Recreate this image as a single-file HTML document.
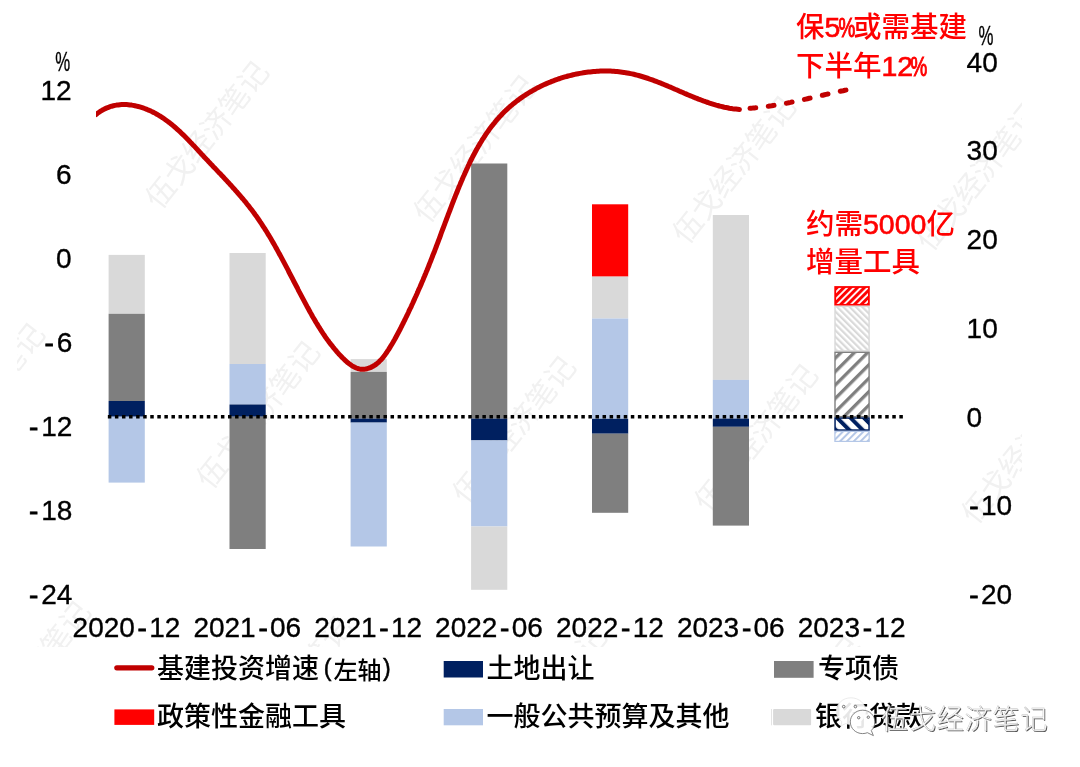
<!DOCTYPE html><html><head><meta charset="utf-8"><title>基建资金来源</title><style>html,body{margin:0;padding:0;background:#fff;overflow:hidden;}svg{display:block;}.n{font-family:"Liberation Sans",Arial,sans-serif;font-size:28px;fill:#000;stroke:#000;stroke-width:0.35px;}.h{stroke-width:0.8px;}.c{font-family:"Liberation Sans","Noto Sans CJK SC",sans-serif;}</style></head><body><svg width="1080" height="767" viewBox="0 0 1080 767"><defs><pattern id="pr" width="4.84" height="4.84" patternUnits="userSpaceOnUse" patternTransform="translate(0,0) rotate(45)"><rect width="4.84" height="4.84" fill="#fff"/><rect width="3.0" height="4.84" fill="#FF0000"/></pattern><pattern id="pl" width="4.45" height="4.45" patternUnits="userSpaceOnUse" patternTransform="translate(0,0) rotate(-45)"><rect width="4.45" height="4.45" fill="#fff"/><rect width="2.2" height="4.45" fill="#D9D9D9"/></pattern><pattern id="pd" width="9.5" height="9.5" patternUnits="userSpaceOnUse" patternTransform="translate(-4.6,0) rotate(45)"><rect width="9.5" height="9.5" fill="#fff"/><rect width="3.3" height="9.5" fill="#7F7F7F"/></pattern><pattern id="pn" width="9.5" height="9.5" patternUnits="userSpaceOnUse" patternTransform="translate(0,0) rotate(-45)"><rect width="9.5" height="9.5" fill="#fff"/><rect width="4.0" height="9.5" fill="#002060"/></pattern><pattern id="pb" width="4.84" height="4.84" patternUnits="userSpaceOnUse" patternTransform="translate(0,0) rotate(45)"><rect width="4.84" height="4.84" fill="#fff"/><rect width="2.0" height="4.84" fill="#B4C7E7"/></pattern><clipPath id="wc"><rect x="17" y="0" width="1005" height="647"/></clipPath><clipPath id="lc"><rect x="95.9" y="0" width="900" height="700"/></clipPath></defs><g clip-path="url(#wc)" fill="#f1f1f1" font-family="Noto Sans CJK SC,sans-serif" font-size="29.5" font-weight="400" text-anchor="middle"><text x="0" y="10.5" transform="translate(207,135) rotate(-51.5)">伍戈经济笔记</text><text x="0" y="10.5" transform="translate(475,149) rotate(-51.5)">伍戈经济笔记</text><text x="0" y="10.5" transform="translate(734,170) rotate(-51.5)">伍戈经济笔记</text><text x="0" y="10.5" transform="translate(978,177) rotate(-51.5)">伍戈经济笔记</text><text x="0" y="10.5" transform="translate(-17,397) rotate(-51.5)">伍戈经济笔记</text><text x="0" y="10.5" transform="translate(258,415) rotate(-51.5)">伍戈经济笔记</text><text x="0" y="10.5" transform="translate(514,430) rotate(-51.5)">伍戈经济笔记</text><text x="0" y="10.5" transform="translate(756,438) rotate(-51.5)">伍戈经济笔记</text><text x="0" y="10.5" transform="translate(1023,450) rotate(-51.5)">伍戈经济笔记</text><text x="0" y="10.5" transform="translate(29,675) rotate(-51.5)">伍戈经济笔记</text><text x="0" y="10.5" transform="translate(290,690) rotate(-51.5)">伍戈经济笔记</text><text x="0" y="10.5" transform="translate(545,700) rotate(-51.5)">伍戈经济笔记</text><text x="0" y="10.5" transform="translate(800,710) rotate(-51.5)">伍戈经济笔记</text></g><rect x="108.60" y="254.90" width="36.20" height="58.90" fill="#D9D9D9"/><rect x="108.60" y="313.80" width="36.20" height="87.20" fill="#7F7F7F"/><rect x="108.60" y="401.00" width="36.20" height="15.70" fill="#002060"/><rect x="108.60" y="416.70" width="36.20" height="65.90" fill="#B4C7E7"/><rect x="229.50" y="253.00" width="36.20" height="111.00" fill="#D9D9D9"/><rect x="229.50" y="364.00" width="36.20" height="40.50" fill="#B4C7E7"/><rect x="229.50" y="404.50" width="36.20" height="12.20" fill="#002060"/><rect x="229.50" y="416.70" width="36.20" height="132.30" fill="#7F7F7F"/><rect x="350.60" y="359.10" width="36.20" height="12.80" fill="#D9D9D9"/><rect x="350.60" y="371.90" width="36.20" height="46.70" fill="#7F7F7F"/><rect x="350.60" y="418.60" width="36.20" height="4.00" fill="#002060"/><rect x="350.60" y="422.60" width="36.20" height="123.90" fill="#B4C7E7"/><rect x="471.10" y="163.50" width="36.20" height="255.10" fill="#7F7F7F"/><rect x="471.10" y="418.60" width="36.20" height="21.80" fill="#002060"/><rect x="471.10" y="440.40" width="36.20" height="86.10" fill="#B4C7E7"/><rect x="471.10" y="526.50" width="36.20" height="63.30" fill="#D9D9D9"/><rect x="592.00" y="204.30" width="36.20" height="72.30" fill="#FF0000"/><rect x="592.00" y="276.60" width="36.20" height="41.90" fill="#D9D9D9"/><rect x="592.00" y="318.50" width="36.20" height="100.30" fill="#B4C7E7"/><rect x="592.00" y="418.80" width="36.20" height="14.90" fill="#002060"/><rect x="592.00" y="433.70" width="36.20" height="79.10" fill="#7F7F7F"/><rect x="712.80" y="215.00" width="36.20" height="164.90" fill="#D9D9D9"/><rect x="712.80" y="379.90" width="36.20" height="38.70" fill="#B4C7E7"/><rect x="712.80" y="418.60" width="36.20" height="8.20" fill="#002060"/><rect x="712.80" y="426.80" width="36.20" height="98.80" fill="#7F7F7F"/><rect x="835.20" y="287.00" width="33.70" height="17.80" fill="url(#pr)" stroke="#FF0000" stroke-width="1.80"/><rect x="835.00" y="306.40" width="34.10" height="44.50" fill="url(#pl)" stroke="#D9D9D9" stroke-width="1.40"/><rect x="835.00" y="352.30" width="34.10" height="64.30" fill="url(#pd)" stroke="#7F7F7F" stroke-width="1.40"/><rect x="835.05" y="418.05" width="34.00" height="12.00" fill="url(#pn)" stroke="#002060" stroke-width="1.50"/><rect x="834.90" y="431.40" width="34.30" height="10.00" fill="url(#pb)" stroke="#B4C7E7" stroke-width="1.20"/><line x1="107.85" y1="416.8" x2="903.4" y2="416.8" stroke="#000" stroke-width="3.4" stroke-dasharray="3.5 3.567"/><path d="M96.0,114.5 L97.5,113.3 L99.1,112.2 L100.6,111.2 L102.1,110.3 L103.7,109.4 L105.3,108.6 L106.9,107.9 L108.5,107.3 L110.1,106.7 L111.7,106.2 L113.4,105.8 L115.0,105.4 L116.6,105.1 L118.3,104.9 L119.9,104.7 L121.6,104.6 L123.3,104.6 L124.9,104.6 L126.6,104.6 L128.3,104.7 L129.9,104.9 L131.6,105.1 L133.2,105.4 L134.9,105.7 L136.5,106.1 L138.2,106.5 L139.8,106.9 L141.4,107.4 L143.0,107.9 L144.6,108.5 L146.2,109.1 L147.8,109.8 L149.4,110.4 L150.9,111.1 L152.4,111.9 L154.0,112.6 L155.5,113.4 L156.9,114.3 L158.4,115.1 L159.8,116.0 L161.3,116.9 L162.7,117.8 L164.1,118.8 L165.4,119.7 L166.8,120.7 L168.2,121.7 L169.5,122.7 L170.8,123.8 L172.1,124.8 L173.4,125.9 L174.7,127.0 L176.0,128.1 L177.3,129.3 L178.5,130.4 L179.8,131.5 L181.0,132.7 L182.2,133.9 L183.5,135.1 L184.7,136.3 L185.9,137.5 L187.1,138.7 L188.3,139.9 L189.5,141.2 L190.6,142.4 L191.8,143.6 L193.0,144.9 L194.2,146.1 L195.4,147.4 L196.5,148.6 L197.7,149.9 L198.9,151.2 L200.0,152.4 L201.2,153.7 L202.4,154.9 L203.5,156.2 L204.7,157.5 L205.9,158.7 L207.1,159.9 L208.2,161.2 L209.4,162.4 L210.6,163.7 L211.8,164.9 L212.9,166.2 L214.1,167.4 L215.3,168.6 L216.5,169.9 L217.6,171.1 L218.8,172.4 L220.0,173.6 L221.2,174.8 L222.3,176.1 L223.5,177.3 L224.7,178.6 L225.8,179.8 L227.0,181.0 L228.1,182.3 L229.3,183.5 L230.4,184.8 L231.6,186.0 L232.7,187.3 L233.8,188.6 L235.0,189.8 L236.1,191.1 L237.2,192.3 L238.3,193.6 L239.4,194.9 L240.5,196.2 L241.6,197.5 L242.7,198.7 L243.8,200.0 L244.9,201.3 L245.9,202.6 L247.0,204.0 L248.1,205.3 L249.1,206.6 L250.1,207.9 L251.2,209.3 L252.2,210.6 L253.2,211.9 L254.2,213.3 L255.2,214.7 L256.2,216.0 L257.2,217.4 L258.1,218.8 L259.1,220.2 L260.0,221.6 L261.0,223.0 L261.9,224.4 L262.8,225.8 L263.7,227.2 L264.7,228.6 L265.6,230.1 L266.5,231.5 L267.4,233.0 L268.2,234.4 L269.1,235.8 L270.0,237.3 L270.9,238.8 L271.7,240.2 L272.6,241.7 L273.4,243.2 L274.3,244.6 L275.1,246.1 L275.9,247.6 L276.8,249.1 L277.6,250.6 L278.4,252.1 L279.2,253.6 L280.1,255.1 L280.9,256.6 L281.7,258.1 L282.5,259.6 L283.3,261.1 L284.1,262.6 L284.9,264.1 L285.7,265.6 L286.5,267.1 L287.3,268.6 L288.1,270.1 L288.8,271.7 L289.6,273.2 L290.4,274.7 L291.2,276.2 L292.0,277.7 L292.8,279.2 L293.5,280.8 L294.3,282.3 L295.1,283.8 L295.9,285.3 L296.7,286.8 L297.5,288.3 L298.2,289.8 L299.0,291.4 L299.8,292.9 L300.6,294.4 L301.4,295.9 L302.2,297.4 L303.0,298.9 L303.8,300.4 L304.6,301.9 L305.4,303.4 L306.2,304.9 L307.0,306.4 L307.8,307.8 L308.6,309.3 L309.4,310.8 L310.2,312.3 L311.1,313.8 L311.9,315.2 L312.7,316.7 L313.6,318.2 L314.4,319.6 L315.3,321.1 L316.1,322.5 L317.0,323.9 L317.9,325.4 L318.8,326.8 L319.7,328.2 L320.6,329.7 L321.5,331.1 L322.4,332.5 L323.3,333.9 L324.3,335.3 L325.2,336.7 L326.2,338.1 L327.2,339.5 L328.2,340.8 L329.2,342.2 L330.3,343.6 L331.3,344.9 L332.4,346.2 L333.4,347.6 L334.5,348.9 L335.7,350.2 L336.8,351.6 L337.9,352.9 L339.1,354.2 L340.3,355.4 L341.5,356.7 L342.7,358.0 L344.0,359.2 L345.3,360.5 L346.6,361.6 L347.9,362.8 L349.2,363.8 L350.6,364.8 L352.0,365.8 L353.4,366.6 L354.8,367.3 L356.3,368.0 L357.7,368.5 L359.2,368.9 L360.8,369.2 L362.3,369.3 L363.9,369.2 L365.5,369.0 L367.1,368.7 L368.7,368.2 L370.3,367.6 L371.9,366.9 L373.4,366.0 L374.9,365.1 L376.3,364.1 L377.7,363.0 L379.0,361.8 L380.2,360.6 L381.4,359.4 L382.5,358.1 L383.6,356.7 L384.7,355.3 L385.7,353.9 L386.7,352.5 L387.6,351.0 L388.6,349.6 L389.5,348.1 L390.4,346.6 L391.3,345.2 L392.2,343.7 L393.1,342.2 L393.9,340.8 L394.8,339.3 L395.6,337.8 L396.4,336.3 L397.2,334.8 L398.0,333.3 L398.8,331.8 L399.6,330.3 L400.4,328.8 L401.1,327.3 L401.9,325.8 L402.6,324.3 L403.4,322.8 L404.1,321.3 L404.9,319.8 L405.6,318.3 L406.3,316.8 L407.1,315.2 L407.8,313.7 L408.5,312.2 L409.2,310.6 L409.9,309.1 L410.7,307.6 L411.4,306.1 L412.1,304.5 L412.8,303.0 L413.5,301.4 L414.2,299.9 L414.9,298.3 L415.6,296.8 L416.3,295.2 L417.0,293.7 L417.7,292.1 L418.3,290.6 L419.0,289.0 L419.7,287.5 L420.4,285.9 L421.1,284.4 L421.7,282.8 L422.4,281.2 L423.1,279.7 L423.7,278.1 L424.4,276.5 L425.0,275.0 L425.7,273.4 L426.3,271.8 L427.0,270.2 L427.6,268.7 L428.3,267.1 L428.9,265.5 L429.5,263.9 L430.1,262.4 L430.8,260.8 L431.4,259.2 L432.0,257.6 L432.6,256.0 L433.2,254.4 L433.9,252.9 L434.5,251.3 L435.1,249.7 L435.7,248.1 L436.3,246.5 L436.9,244.9 L437.5,243.3 L438.1,241.8 L438.7,240.2 L439.3,238.6 L439.9,237.0 L440.5,235.4 L441.0,233.8 L441.6,232.2 L442.2,230.6 L442.8,229.0 L443.4,227.5 L444.0,225.9 L444.6,224.3 L445.2,222.7 L445.8,221.1 L446.4,219.5 L447.0,217.9 L447.6,216.3 L448.2,214.7 L448.8,213.1 L449.4,211.6 L450.0,210.0 L450.6,208.4 L451.2,206.8 L451.8,205.2 L452.4,203.6 L453.0,202.0 L453.6,200.5 L454.2,198.9 L454.9,197.3 L455.5,195.7 L456.1,194.1 L456.8,192.6 L457.4,191.0 L458.0,189.4 L458.7,187.8 L459.3,186.2 L460.0,184.7 L460.6,183.1 L461.3,181.5 L462.0,180.0 L462.6,178.4 L463.3,176.8 L464.0,175.3 L464.7,173.7 L465.4,172.1 L466.1,170.6 L466.8,169.0 L467.5,167.5 L468.2,165.9 L469.0,164.4 L469.7,162.9 L470.4,161.3 L471.2,159.8 L472.0,158.3 L472.7,156.8 L473.5,155.3 L474.3,153.8 L475.1,152.3 L475.9,150.8 L476.7,149.3 L477.6,147.8 L478.4,146.3 L479.2,144.9 L480.1,143.4 L481.0,142.0 L481.9,140.5 L482.7,139.1 L483.7,137.7 L484.6,136.3 L485.5,134.9 L486.4,133.5 L487.4,132.1 L488.4,130.7 L489.3,129.4 L490.3,128.0 L491.3,126.7 L492.4,125.4 L493.4,124.1 L494.5,122.8 L495.5,121.5 L496.6,120.2 L497.7,118.9 L498.8,117.7 L499.9,116.4 L501.1,115.2 L502.2,114.0 L503.4,112.8 L504.6,111.6 L505.8,110.4 L507.0,109.3 L508.3,108.1 L509.5,107.0 L510.8,105.9 L512.1,104.8 L513.4,103.7 L514.7,102.7 L516.1,101.6 L517.4,100.6 L518.8,99.6 L520.1,98.6 L521.5,97.6 L522.9,96.6 L524.4,95.7 L525.8,94.7 L527.2,93.8 L528.7,92.9 L530.1,92.0 L531.6,91.2 L533.1,90.3 L534.6,89.5 L536.1,88.6 L537.6,87.8 L539.2,87.1 L540.7,86.3 L542.3,85.5 L543.8,84.8 L545.4,84.1 L547.0,83.4 L548.6,82.7 L550.2,82.1 L551.8,81.4 L553.4,80.8 L555.0,80.2 L556.6,79.6 L558.2,79.0 L559.9,78.5 L561.5,77.9 L563.2,77.4 L564.8,76.9 L566.5,76.5 L568.1,76.0 L569.8,75.6 L571.5,75.2 L573.1,74.8 L574.8,74.4 L576.5,74.0 L578.2,73.7 L579.9,73.4 L581.6,73.1 L583.3,72.8 L585.0,72.5 L586.7,72.3 L588.4,72.1 L590.1,71.9 L591.8,71.7 L593.5,71.5 L595.2,71.4 L596.9,71.3 L598.6,71.2 L600.3,71.1 L602.0,71.1 L603.7,71.0 L605.4,71.0 L607.1,71.1 L608.8,71.1 L610.5,71.1 L612.2,71.2 L613.9,71.3 L615.5,71.5 L617.2,71.6 L618.9,71.8 L620.6,72.0 L622.2,72.2 L623.9,72.4 L625.6,72.7 L627.2,73.0 L628.9,73.3 L630.5,73.6 L632.1,73.9 L633.8,74.3 L635.4,74.7 L637.0,75.1 L638.6,75.5 L640.3,76.0 L641.9,76.5 L643.5,77.0 L645.1,77.5 L646.7,78.0 L648.3,78.5 L649.8,79.1 L651.4,79.6 L653.0,80.2 L654.6,80.8 L656.2,81.4 L657.7,82.0 L659.3,82.6 L660.9,83.2 L662.5,83.9 L664.0,84.5 L665.6,85.2 L667.2,85.8 L668.7,86.5 L670.3,87.1 L671.8,87.8 L673.4,88.5 L675.0,89.2 L676.5,89.8 L678.1,90.5 L679.6,91.2 L681.2,91.9 L682.8,92.5 L684.3,93.2 L685.9,93.9 L687.5,94.6 L689.0,95.2 L690.6,95.9 L692.2,96.5 L693.7,97.2 L695.3,97.8 L696.9,98.4 L698.5,99.1 L700.1,99.7 L701.6,100.3 L703.2,100.9 L704.8,101.4 L706.4,102.0 L708.0,102.5 L709.6,103.1 L711.2,103.6 L712.8,104.1 L714.5,104.6 L716.1,105.1 L717.7,105.5 L719.3,106.0 L721.0,106.4 L722.6,106.8 L724.3,107.2 L725.9,107.5 L727.6,107.8 L729.2,108.2 L730.9,108.4 L732.6,108.7 L734.3,108.9 L736.0,109.1 L737.7,109.3 L739.4,109.5" clip-path="url(#lc)" fill="none" stroke="#C00000" stroke-width="5" stroke-linecap="round" stroke-linejoin="round"/><path d="M747.5,108.4 L749.2,108.3 L751.0,108.2 L752.7,108.1 L754.5,107.9 L756.2,107.8 L757.9,107.6 L759.7,107.4 L761.4,107.2 L763.1,107.0 L764.8,106.8 L766.6,106.5 L768.3,106.3 L770.0,106.0 L771.7,105.8 L773.4,105.5 L775.1,105.2 L776.9,104.9 L778.6,104.7 L780.3,104.3 L782.0,104.0 L783.7,103.7 L785.4,103.4 L787.1,103.1 L788.8,102.7 L790.5,102.4 L792.2,102.0 L793.9,101.7 L795.6,101.3 L797.3,101.0 L799.0,100.6 L800.7,100.2 L802.4,99.8 L804.1,99.5 L805.8,99.1 L807.5,98.7 L809.2,98.3 L810.9,97.9 L812.6,97.5 L814.3,97.2 L816.0,96.8 L817.7,96.4 L819.4,96.0 L821.1,95.6 L822.8,95.2 L824.5,94.8 L826.2,94.4 L827.9,94.0 L829.6,93.7 L831.3,93.3 L833.0,92.9 L834.7,92.5 L836.4,92.1 L838.1,91.8 L839.8,91.4 L841.5,91.0 L843.2,90.7 L844.9,90.3 L846.6,90.0 L848.3,89.6" fill="none" stroke="#C00000" stroke-width="5" stroke-linecap="round" stroke-dasharray="5.8 12.6" stroke-dashoffset="-2.5"/><text class="n" x="71.7" y="99.5" text-anchor="end">12</text><text class="n" x="71.7" y="183.5" text-anchor="end">6</text><text class="n" x="71.7" y="267.5" text-anchor="end">0</text><text class="n" x="73.3" y="351.5" text-anchor="end"><tspan class="h" dx="-1">-</tspan><tspan dx="2.8">6</tspan></text><text class="n" x="73.3" y="435.5" text-anchor="end"><tspan class="h" dx="-1">-</tspan><tspan dx="2.8">12</tspan></text><text class="n" x="73.3" y="519.5" text-anchor="end"><tspan class="h" dx="-1">-</tspan><tspan dx="2.8">18</tspan></text><text class="n" x="73.3" y="603.5" text-anchor="end"><tspan class="h" dx="-1">-</tspan><tspan dx="2.8">24</tspan></text><text class="n" x="966.6" y="71.5" text-anchor="start">40</text><text class="n" x="966.6" y="160.2" text-anchor="start">30</text><text class="n" x="966.6" y="249.0" text-anchor="start">20</text><text class="n" x="966.6" y="337.8" text-anchor="start">10</text><text class="n" x="966.6" y="426.5" text-anchor="start">0</text><text class="n" x="970.3" y="515.2" text-anchor="start"><tspan class="h" dx="-1">-</tspan><tspan dx="2.3">10</tspan></text><text class="n" x="970.3" y="604.0" text-anchor="start"><tspan class="h" dx="-1">-</tspan><tspan dx="2.3">20</tspan></text><text class="n" font-size="25" transform="translate(55.2,71) scale(0.6,1)">%</text><text class="n" font-size="25" transform="translate(978.6,45) scale(0.6,1)">%</text><text class="n" x="126.5" y="637.2" text-anchor="middle">2020<tspan class="h" dx="2.7">-</tspan><tspan dx="2.3">12</tspan></text><text class="n" x="247.3" y="637.2" text-anchor="middle">2021<tspan class="h" dx="2.7">-</tspan><tspan dx="2.3">06</tspan></text><text class="n" x="368.2" y="637.2" text-anchor="middle">2021<tspan class="h" dx="2.7">-</tspan><tspan dx="2.3">12</tspan></text><text class="n" x="489.0" y="637.2" text-anchor="middle">2022<tspan class="h" dx="2.7">-</tspan><tspan dx="2.3">06</tspan></text><text class="n" x="609.9" y="637.2" text-anchor="middle">2022<tspan class="h" dx="2.7">-</tspan><tspan dx="2.3">12</tspan></text><text class="n" x="730.8" y="637.2" text-anchor="middle">2023<tspan class="h" dx="2.7">-</tspan><tspan dx="2.3">06</tspan></text><text class="n" x="851.6" y="637.2" text-anchor="middle">2023<tspan class="h" dx="2.7">-</tspan><tspan dx="2.3">12</tspan></text><g class="c" fill="#FF0000" font-size="28.5" font-weight="500"><text x="796" y="37.2">保<tspan stroke="#f00" stroke-width="0.6">5</tspan></text><text x="0" y="0" transform="translate(838.5,37.2) scale(0.66,1)" stroke="#f00" stroke-width="1.1">%</text><text x="853" y="37.2">或需基建</text><text x="796" y="75.8">下半年<tspan stroke="#f00" stroke-width="0.6">12</tspan></text><text x="0" y="0" transform="translate(910.5,75.8) scale(0.66,1)" stroke="#f00" stroke-width="1.1">%</text><text x="806" y="234.3">约需<tspan stroke="#f00" stroke-width="0.6">5000</tspan>亿</text><text x="806" y="272.3">增量工具</text></g><g class="c" fill="#000" font-size="27" font-weight="500"><line x1="116.8" y1="667.8" x2="151.8" y2="667.8" stroke="#C00000" stroke-width="5.2" stroke-linecap="round"/><text x="157" y="678">基建投资增速<tspan x="323.8" y="675.8" font-size="23" stroke="#000" stroke-width="0.5">(</tspan><tspan x="333.6" y="678.7" font-size="24">左轴</tspan><tspan x="382.9" y="675.8" font-size="23" stroke="#000" stroke-width="0.5">)</tspan></text><rect x="114.4" y="709.4" width="39.8" height="15.5" fill="#FF0000"/><text x="157" y="726">政策性金融工具</text><rect x="443.7" y="661" width="39.3" height="16.5" fill="#002060"/><text x="486.5" y="678">土地出让</text><rect x="443.7" y="709" width="39.3" height="16.3" fill="#B4C7E7"/><text x="486.5" y="726">一般公共预算及其他</text><rect x="774" y="661" width="39.6" height="16.8" fill="#7F7F7F"/><text x="818" y="678">专项债</text><rect x="773.1" y="709" width="38" height="16.3" rx="1" fill="#D9D9D9"/><rect x="771" y="709" width="0.8" height="16.3" fill="#dedede"/><text x="815" y="726">银行贷款</text></g><g fill="#fff" fill-opacity="0.9"><path d="M851,697.8 C842.5,697.8 836.3,703.9 836.3,711.4 C836.3,715.6 838.5,719.3 841.8,721.6 L840.8,726 L845.5,723.6 C847.2,724.2 849,724.6 851,724.6 C859.2,724.6 865.7,718.6 865.7,711.2 C865.7,703.9 859.2,697.8 851,697.8 Z" stroke="#ddd" stroke-width="0.6"/><path d="M862.6,710.2 C855.8,710.2 850.3,715.3 850.3,721.9 C850.3,728.4 855.8,733.6 862.6,733.6 C864.3,733.6 865.9,733.3 867.4,732.7 L873.4,735.6 L871.3,730.5 C873.6,728.3 874.9,725.2 874.9,721.9 C874.9,715.3 869.4,710.2 862.6,710.2 Z" stroke="#666" stroke-width="0.8"/></g><g fill="none" stroke="#555" stroke-width="0.8"><circle cx="843.7" cy="706.6" r="1.3"/><circle cx="855.4" cy="706.6" r="1.3"/><circle cx="858.7" cy="717.7" r="1.2"/><circle cx="868.3" cy="717.2" r="1.2"/></g><g font-family="Noto Sans CJK SC,sans-serif" font-size="27" font-weight="300" letter-spacing="0.9"><text x="881" y="729" fill="#555" transform="translate(1,1)">伍戈经济笔记</text><text x="881" y="729" fill="#fff" stroke="#bbb" stroke-width="0.4">伍戈经济笔记</text></g></svg></body></html>
